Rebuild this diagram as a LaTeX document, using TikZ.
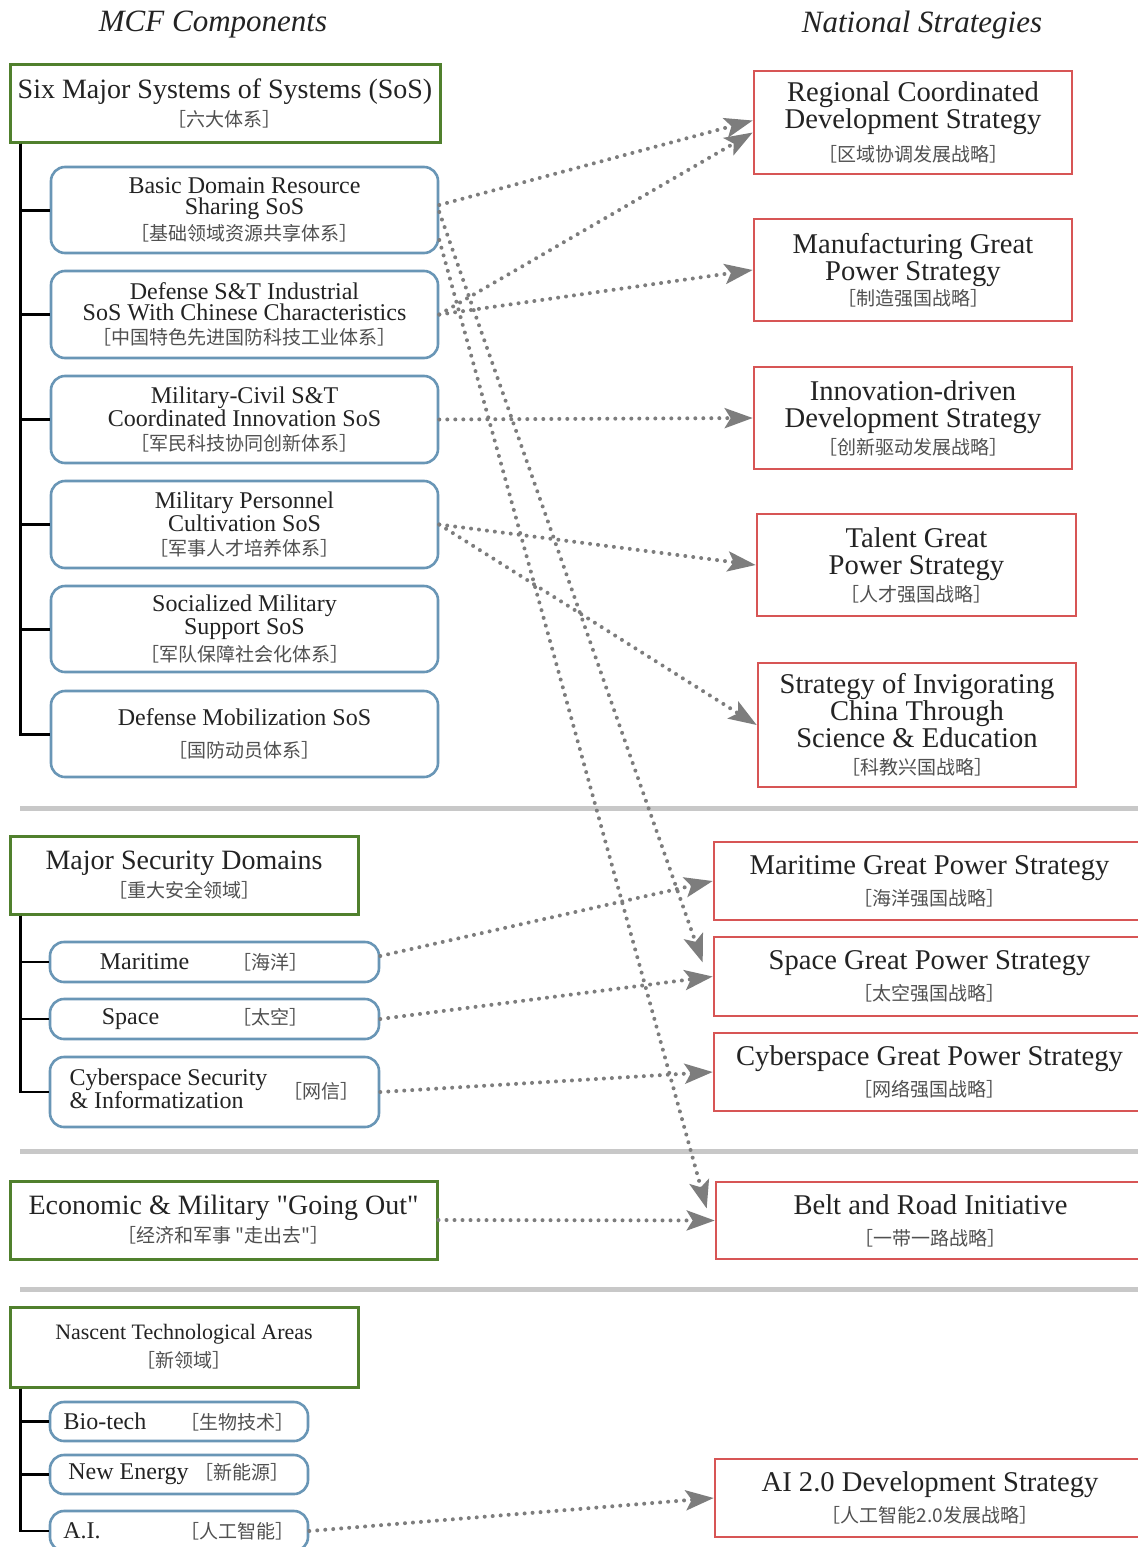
\documentclass[tikz,border=0pt]{standalone}
\usepackage{fontspec}
\setmainfont{Liberation Serif}
\newfontfamily\zhfont{Noto Sans CJK SC}
\usetikzlibrary{arrows.meta}

\definecolor{grpgreen}{RGB}{80,128,45}
\definecolor{subblue}{RGB}{105,150,182}
\definecolor{stratred}{RGB}{215,85,85}
\definecolor{linkgray}{RGB}{125,125,125}
\definecolor{sepgray}{RGB}{200,200,200}
\definecolor{zhgray}{RGB}{80,80,80}
\definecolor{txtdark}{RGB}{35,35,35}

\newcommand{\zhtxt}[1]{{\zhfont\fontsize{9.5}{10}\selectfont\color{zhgray}#1}}

\tikzset{
  header/.style={font=\fontsize{15.5}{16}\selectfont\itshape, text=txtdark},
  grpbox/.style={draw=grpgreen, line width=1.5pt, inner sep=0pt, align=center, text=txtdark, font=\fontsize{14}{14}\selectfont},
  subbox/.style={draw=subblue, line width=1.3pt, rounded corners=7pt, inner sep=0pt, align=center, text=txtdark, font=\fontsize{12}{10.5}\selectfont},
  stratbox/.style={draw=stratred, line width=1.3pt, inner sep=0pt, align=center, text=txtdark, font=\fontsize{14.3}{13.5}\selectfont},
  link/.style={draw=linkgray, line width=2pt, line cap=round, dash pattern=on 0pt off 4pt, -{Stealth[length=14pt,width=10pt,inset=3pt]}},
  tree/.style={draw=black, line width=1.5pt},
  sepline/.style={draw=sepgray, line width=2.5pt}
}

\begin{document}
\begin{tikzpicture}[x=0.5pt,y=-0.5pt]
\useasboundingbox (0,0) rectangle (1138,1547);
\clip (0,0) rectangle (1138,1547);
\fill[white] (0,0) rectangle (1138,1547);

\node[header] (hdmcf) at (213,25) {MCF Components};
\node[header] (hdnat) at (922,25) {National Strategies};

% separators
\draw[sepline] (20,808) -- (1140,808);
\draw[sepline] (20,1151) -- (1140,1151);
\draw[sepline] (20,1289) -- (1140,1289);

% MCF components
\node[grpbox, minimum width=215pt, minimum height=39pt] (six) at (225,103) {Six Major Systems of Systems (SoS)\\\zhtxt{［六大体系］}};
\node[subbox, minimum width=193.5pt, minimum height=43pt] (basic) at (244.5,210) {Basic Domain Resource\\Sharing SoS\\[1.5pt]\zhtxt{［基础领域资源共享体系］}};
\node[subbox, minimum width=193.5pt, minimum height=43.5pt] (defst) at (244.5,314.5) {Defense S\&T Industrial\\SoS With Chinese Characteristics\\[1.5pt]\zhtxt{［中国特色先进国防科技工业体系］}};
\node[subbox, minimum width=193.5pt, minimum height=43.5pt] (milciv) at (244.5,419.5) {Military-Civil S\&T\\Coordinated Innovation SoS\\[1.5pt]\zhtxt{［军民科技协同创新体系］}};
\node[subbox, minimum width=193.5pt, minimum height=43.5pt] (milper) at (244.5,524.5) {Military Personnel\\Cultivation SoS\\[1.5pt]\zhtxt{［军事人才培养体系］}};
\node[subbox, minimum width=193.5pt, minimum height=43pt] (social) at (244.5,629) {Socialized Military\\Support SoS\\[1.5pt]\zhtxt{［军队保障社会化体系］}};
\node[subbox, minimum width=193.5pt, minimum height=43pt] (defmob) at (244.5,734) {Defense Mobilization SoS\\[5.5pt]\zhtxt{［国防动员体系］}};

\node[grpbox, minimum width=174pt, minimum height=39pt] (msd) at (184,875) {Major Security Domains\\\zhtxt{［重大安全领域］}};
\node[subbox, minimum width=164.5pt, minimum height=20pt] (maritime) at (214.5,962) {\makebox[56pt]{Maritime}\makebox[70pt]{\zhtxt{［海洋］}}};
\node[subbox, minimum width=164.5pt, minimum height=20pt] (space) at (214.5,1019) {\makebox[56pt]{Space}\makebox[84pt]{\zhtxt{［太空］}}};
\node[subbox, minimum width=164.5pt, minimum height=35pt] (cyber) at (214.5,1092) {\begin{tabular}{@{}l@{}}Cyberspace Security\\\& Informatization\end{tabular}\hspace{8pt}\zhtxt{［网信］}};

\node[grpbox, minimum width=213.5pt, minimum height=39pt] (econ) at (223.5,1220) {Economic \& Military \textquotedbl Going Out\textquotedbl\\\zhtxt{［经济和军事 "走出去"］}};

\node[grpbox, minimum width=174pt, minimum height=40pt, font=\fontsize{11}{14}\selectfont] (nascent) at (184,1347) {Nascent Technological Areas\\\zhtxt{［新领域］}};
\node[subbox, minimum width=129pt, minimum height=19.5pt] (biotech) at (179,1421.5) {Bio-tech\hspace{17pt}\zhtxt{［生物技术］}};
\node[subbox, minimum width=129pt, minimum height=19.5pt] (newenergy) at (179,1474.5) {New Energy \zhtxt{［新能源］}};
\node[subbox, minimum width=129pt, minimum height=20pt] (ai) at (179,1531) {A.I.\hspace{40pt}\zhtxt{［人工智能］}};

% tree lines
\draw[tree] ([xshift=6pt]six.south west) |- (basic.west);
\draw[tree] ([xshift=6pt]six.south west) |- (defst.west);
\draw[tree] ([xshift=6pt]six.south west) |- (milciv.west);
\draw[tree] ([xshift=6pt]six.south west) |- (milper.west);
\draw[tree] ([xshift=6pt]six.south west) |- (social.west);
\draw[tree] ([xshift=6pt]six.south west) |- (defmob.west);
\draw[tree, line width=1.2pt] ([xshift=6pt]msd.south west) |- (maritime.west);
\draw[tree, line width=1.2pt] ([xshift=6pt]msd.south west) |- (space.west);
\draw[tree, line width=1.2pt] ([xshift=6pt]msd.south west) |- (cyber.west);
\draw[tree, line width=1.2pt] ([xshift=6pt]nascent.south west) |- (biotech.west);
\draw[tree, line width=1.2pt] ([xshift=6pt]nascent.south west) |- (newenergy.west);
\draw[tree, line width=1.2pt] ([xshift=6pt]nascent.south west) |- (ai.west);

% national strategies
\node[stratbox, minimum width=159pt, minimum height=51.5pt] (regional) at (913,122.5) {Regional Coordinated\\Development Strategy\\[3pt]\zhtxt{［区域协调发展战略］}};
\node[stratbox, minimum width=159pt, minimum height=51pt] (manuf) at (913,270) {Manufacturing Great\\Power Strategy\\[-1pt]\zhtxt{［制造强国战略］}};
\node[stratbox, minimum width=159pt, minimum height=51pt] (innov) at (913,418) {Innovation-driven\\Development Strategy\\\zhtxt{［创新驱动发展战略］}};
\node[stratbox, minimum width=159.5pt, minimum height=51pt] (talent) at (916.5,565) {Talent Great\\Power Strategy\\\zhtxt{［人才强国战略］}};
\node[stratbox, minimum width=159pt, minimum height=62pt] (invig) at (917,725) {Strategy of Invigorating\\China Through\\Science \& Education\\\zhtxt{［科教兴国战略］}};
\node[stratbox, minimum width=215.5pt, minimum height=39pt] (margp) at (929.5,881) {Maritime Great Power Strategy\\[2pt]\zhtxt{［海洋强国战略］}};
\node[stratbox, minimum width=215.5pt, minimum height=39.5pt] (spacegp) at (929.5,976.5) {Space Great Power Strategy\\[2pt]\zhtxt{［太空强国战略］}};
\node[stratbox, minimum width=215.5pt, minimum height=39pt] (cybergp) at (929.5,1072) {Cyberspace Great Power Strategy\\[2pt]\zhtxt{［网络强国战略］}};
\node[stratbox, minimum width=214.5pt, minimum height=38.5pt] (belt) at (930.5,1220.5) {Belt and Road Initiative\\[2pt]\zhtxt{［一带一路战略］}};
\node[stratbox, minimum width=215pt, minimum height=39pt] (ai20) at (930,1498) {AI 2.0 Development Strategy\\[2pt]\zhtxt{［人工智能2.0发展战略］}};

% links
\draw[link] ([yshift=2.5pt]basic.east) -- ([yshift=1pt]regional.west);
\draw[link] (defst.east) -- ([yshift=-5pt]regional.west);
\draw[link] (defst.east) -- (manuf.west);
\draw[link] (milciv.east) -- (innov.west);
\draw[link] (milper.east) -- (talent.west);
\draw[link] (milper.east) -- (invig.west);
\draw[link] ([yshift=-1pt]basic.east) -- ([xshift=-5pt,yshift=7pt]spacegp.west);
\draw[link] ([yshift=-15pt]basic.east) -- ([xshift=-4pt,yshift=6pt]belt.west);
\draw[link] ([yshift=3pt]maritime.east) -- (margp.west);
\draw[link] (space.east) -- (spacegp.west);
\draw[link] (cyber.east) -- (cybergp.west);
\draw[link] (econ.east) -- (belt.west);
\draw[link] (ai.east) -- (ai20.west);
\end{tikzpicture}
\end{document}
